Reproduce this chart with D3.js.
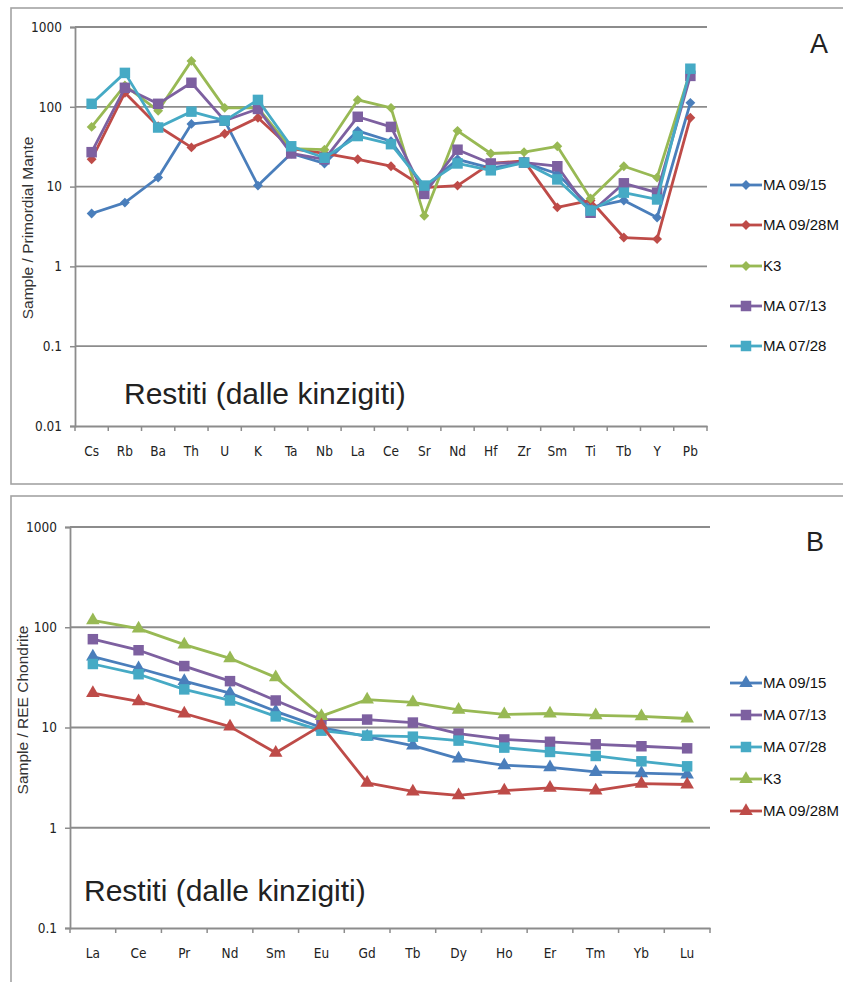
<!DOCTYPE html>
<html>
<head>
<meta charset="utf-8">
<script src="https://cdn.jsdelivr.net/npm/d3@7"></script>
<style>
  html, body { margin: 0; padding: 0; background: #fff; }
  svg { display: block; }
  .tick-lbl { font-family: "Liberation Sans Narrow", "DejaVu Sans Condensed", "Liberation Sans", sans-serif; font-size: 13.5px; fill: #222; }
  .leg-lbl { font-family: "Liberation Sans", Arial, sans-serif; font-size: 15px; fill: #111; }
  .ytitle { font-family: "Liberation Sans", Arial, sans-serif; font-size: 15.5px; fill: #333; }
  .big { font-family: "Liberation Sans", Arial, sans-serif; font-size: 30px; fill: #222; }
  .letter { font-family: "Liberation Sans", Arial, sans-serif; font-size: 27px; fill: #222; }
</style>
</head>
<body>
<svg id="chart" width="843" height="982"></svg>
<script>
// ---- Panel A: trace elements normalised to primordial mantle ----
const traceElements = ["Cs","Rb","Ba","Th","U","K","Ta","Nb","La","Ce","Sr","Nd","Hf","Zr","Sm","Ti","Tb","Y","Pb"];
const traceMA0915  = [4.6, 6.3, 13, 61, 67, 10.3, 26, 19.5, 50, 37, 9.7, 22, 17, 20, 14.5, 5.5, 6.7, 4.1, 112];
const traceMA0928M = [22, 150, 57, 31, 46, 73, 30, 26, 22, 18, 9.7, 10.3, 19.5, 21, 5.5, 6.7, 2.3, 2.2, 73];
const traceK3      = [56, 185, 89, 376, 97, 97, 30, 29, 122, 97, 4.3, 50, 26, 27, 32, 7.1, 18, 13, 280];
const traceMA0713  = [27, 173, 109, 200, 67, 94, 26, 22, 75, 56, 8.1, 29, 19.5, 20, 18, 4.7, 11, 8.4, 244];
const traceMA0728  = [109, 266, 55, 87, 67, 122, 32, 23, 43, 34, 10.3, 19.5, 16, 20, 12.3, 5, 8.4, 6.9, 300];

// ---- Panel B: REE normalised to chondrite ----
const reeElements = ["La","Ce","Pr","Nd","Sm","Eu","Gd","Tb","Dy","Ho","Er","Tm","Yb","Lu"];
const reeMA0915  = [51, 39, 29, 22, 14.5, 10, 8.1, 6.6, 4.9, 4.2, 4.0, 3.6, 3.5, 3.4];
const reeMA0713  = [76, 59, 41, 29, 18.6, 12, 12, 11.2, 8.7, 7.6, 7.2, 6.8, 6.5, 6.2];
const reeMA0728  = [43, 34, 24, 18.6, 12.9, 9.3, 8.3, 8.1, 7.4, 6.3, 5.7, 5.2, 4.6, 4.1];
const reeK3      = [117, 97, 67, 49, 31.6, 13, 19, 17.8, 15, 13.5, 13.8, 13.2, 12.9, 12.3];
const reeMA0928M = [22, 18.2, 13.8, 10.2, 5.6, 10.5, 2.8, 2.3, 2.1, 2.35, 2.5, 2.35, 2.75, 2.7];

const yTicksA = [0.01, 0.1, 1, 10, 100, 1000];
const yTicksB = [0.1, 1, 10, 100, 1000];
const tickText = v => String(v);

const COL = { blue: "#4A7EBB", red: "#BE4B48", green: "#98B954", purple: "#7D60A0", cyan: "#46AAC5" };

const seriesA = [
  { name: "MA 09/15",  values: traceMA0915,  color: COL.blue,   marker: "diamond" },
  { name: "MA 09/28M", values: traceMA0928M, color: COL.red,    marker: "diamond" },
  { name: "K3",        values: traceK3,      color: COL.green,  marker: "diamond" },
  { name: "MA 07/13",  values: traceMA0713,  color: COL.purple, marker: "square" },
  { name: "MA 07/28",  values: traceMA0728,  color: COL.cyan,   marker: "square" }
];
const seriesB = [
  { name: "MA 09/15",  values: reeMA0915,  color: COL.blue,   marker: "triangle" },
  { name: "MA 07/13",  values: reeMA0713,  color: COL.purple, marker: "square" },
  { name: "MA 07/28",  values: reeMA0728,  color: COL.cyan,   marker: "square" },
  { name: "K3",        values: reeK3,      color: COL.green,  marker: "triangle" },
  { name: "MA 09/28M", values: reeMA0928M, color: COL.red,    marker: "triangle" }
];

const svg = d3.select("#chart");
const GRID = "#8c8c8c";

function markerPath(type) {
  if (type === "diamond") return d3.symbol().type(d3.symbolDiamond2).size(62)();
  if (type === "square") return d3.symbol().type(d3.symbolSquare).size(110)();
  return d3.symbol().type(d3.symbolTriangle).size(80)();
}

function drawPanel(cfg) {
  const g = svg.append("g");
  // frame
  g.append("rect")
    .attr("x", cfg.frame[0]).attr("y", cfg.frame[1])
    .attr("width", cfg.frame[2]).attr("height", cfg.frame[3])
    .attr("fill", "#fff").attr("stroke", "#a3a3a3").attr("stroke-width", 1.6);

  const x = d3.scaleBand().domain(cfg.cats).range([cfg.x0, cfg.x1]);
  const y = d3.scaleLog().domain([cfg.yTicks[0], cfg.yTicks[cfg.yTicks.length - 1]]).range([cfg.yBottom, cfg.yTop]);

  // horizontal gridlines
  g.selectAll(".grid").data(cfg.yTicks.slice(1)).enter().append("line")
    .attr("x1", cfg.x0).attr("x2", cfg.x1)
    .attr("y1", d => y(d)).attr("y2", d => y(d))
    .attr("stroke", GRID).attr("stroke-width", 1.8);

  // y axis
  const yAxis = d3.axisLeft(y).tickValues(cfg.yTicks).tickFormat(tickText).tickSize(5).tickPadding(8);
  const ya = g.append("g").attr("transform", `translate(${cfg.x0},0)`).call(yAxis);
  ya.select(".domain").attr("stroke", GRID).attr("stroke-width", 1.8);
  ya.selectAll(".tick line").attr("stroke", GRID).attr("stroke-width", 1.5);
  ya.selectAll(".tick text").attr("class", "tick-lbl").attr("font-size", null).attr("font-family", null);

  // x axis with ticks between categories
  const xAxis = d3.axisBottom(x).tickSize(0).tickPadding(20);
  const xa = g.append("g").attr("transform", `translate(0,${cfg.yBottom})`).call(xAxis);
  xa.select(".domain").attr("stroke", GRID).attr("stroke-width", 1.8);
  xa.selectAll(".tick text").attr("class", "tick-lbl").attr("font-size", null).attr("font-family", null);
  const bounds = cfg.cats.map(c => x(c)).concat([cfg.x1]);
  xa.selectAll(".xtick").data(bounds).enter().append("line")
    .attr("x1", d => d).attr("x2", d => d).attr("y1", 0).attr("y2", 5)
    .attr("stroke", GRID).attr("stroke-width", 1.5);

  const cx = c => x(c) + x.bandwidth() / 2;
  const line = d3.line().x(d => cx(d.cat)).y(d => y(d.v));

  cfg.series.forEach(s => {
    const pts = cfg.cats.map((c, i) => ({ cat: c, v: s.values[i] }));
    g.append("path").datum(pts).attr("d", line)
      .attr("fill", "none").attr("stroke", s.color).attr("stroke-width", 2.8)
      .attr("stroke-linejoin", "round");
    g.selectAll(null).data(pts).enter().append("path")
      .attr("d", markerPath(s.marker))
      .attr("transform", d => `translate(${cx(d.cat)},${y(d.v)})`)
      .attr("fill", s.color);
  });

  // legend
  cfg.series.forEach((s, i) => {
    const ly = cfg.legendY[i];
    g.append("line").attr("x1", 730).attr("x2", 762).attr("y1", ly).attr("y2", ly)
      .attr("stroke", s.color).attr("stroke-width", 2.8);
    g.append("path").attr("d", markerPath(s.marker)).attr("transform", `translate(746,${ly})`).attr("fill", s.color);
    g.append("text").attr("class", "leg-lbl").attr("x", 763).attr("y", ly).attr("dy", "0.36em").text(s.name);
  });

  // axis title
  g.append("text").attr("class", "ytitle")
    .attr("transform", `translate(${cfg.titleX},${cfg.titleY}) rotate(-90)`)
    .attr("text-anchor", "middle").attr("dy", "0.35em").text(cfg.yTitle);

  // panel letter and caption
  g.append("text").attr("class", "letter").attr("x", cfg.letterX).attr("y", cfg.letterY).text(cfg.letter);
  g.append("text").attr("class", "big").attr("x", cfg.capX).attr("y", cfg.capY).text("Restiti (dalle kinzigiti)");
}

drawPanel({
  frame: [11, 8, 840, 476],
  cats: traceElements, x0: 75, x1: 707, yTop: 27, yBottom: 426, yTicks: yTicksA,
  series: seriesA, legendY: [185, 225, 266, 306, 346],
  yTitle: "Sample / Primordial Mante", titleX: 28, titleY: 228,
  letter: "A", letterX: 810, letterY: 53, capX: 124, capY: 404
});

drawPanel({
  frame: [11, 496, 840, 490],
  cats: reeElements, x0: 70, x1: 710, yTop: 527, yBottom: 928, yTicks: yTicksB,
  series: seriesB, legendY: [683, 715, 747, 779, 811],
  yTitle: "Sample / REE Chondrite", titleX: 23, titleY: 710,
  letter: "B", letterX: 806, letterY: 551, capX: 84, capY: 901
});
</script>
</body>
</html>
